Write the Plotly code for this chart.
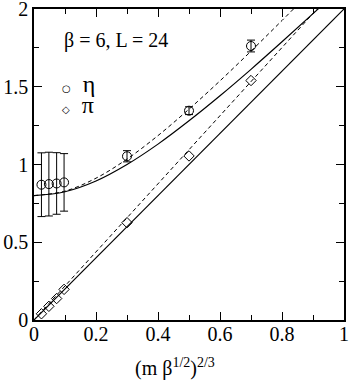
import plotly.graph_objects as go

# measured points
x_pts = [0.024, 0.048, 0.073, 0.097, 0.3, 0.5, 0.7]
eta_y = [0.870, 0.874, 0.878, 0.885, 1.053, 1.346, 1.762]
eta_err = [0.205, 0.205, 0.198, 0.185, 0.036, 0.025, 0.038]
pi_y = [0.040, 0.088, 0.138, 0.197, 0.626, 1.055, 1.540]

# fit curves
fit_x = [0, 0.1, 0.2, 0.3, 0.4, 0.5, 0.6, 0.7, 0.8, 0.9, 1.0]
eta_fit_solid = [0.800, 0.825, 0.894, 1.000, 1.131, 1.281, 1.442, 1.612, 1.789, 1.970, 2.154]
eta_fit_dash = [0.800, 0.829, 0.912, 1.035, 1.186, 1.356, 1.538, 1.729, 1.926, 2.127, 2.330]
pi_line_x = [0, 1.0]
pi_fit_solid = [0, 2.00]
pi_fit_dash = [0, 2.19]

FONT = 'Liberation Serif'

fig = go.Figure()

fig.add_trace(go.Scatter(x=fit_x, y=eta_fit_solid, mode='lines', line=dict(color='black', width=1.2, shape='spline'), showlegend=False))
fig.add_trace(go.Scatter(x=fit_x, y=eta_fit_dash, mode='lines', line=dict(color='black', width=1, dash='4px,3px', shape='spline'), showlegend=False))
fig.add_trace(go.Scatter(x=pi_line_x, y=pi_fit_solid, mode='lines', line=dict(color='black', width=1.2), showlegend=False))
fig.add_trace(go.Scatter(x=pi_line_x, y=pi_fit_dash, mode='lines', line=dict(color='black', width=1, dash='4px,3px'), showlegend=False))

fig.add_trace(go.Scatter(
    x=x_pts, y=eta_y, mode='markers', showlegend=False,
    marker=dict(symbol='circle-open', size=9, color='black', line=dict(width=1)),
    error_y=dict(type='data', array=eta_err, color='black', thickness=1, width=4),
))
fig.add_trace(go.Scatter(
    x=x_pts, y=pi_y, mode='markers', showlegend=False,
    marker=dict(symbol='diamond-open', size=8, color='black', line=dict(width=1)),
))

axis_common = dict(
    showline=True, linecolor='black', linewidth=1.5, mirror='ticks',
    ticks='inside', ticklen=8, tickcolor='black', tickwidth=1,
    showgrid=False, zeroline=False, automargin=False, ticklabeloverflow='allow',
    tickfont=dict(family=FONT, size=20, color='black'),
)

fig.update_xaxes(range=[0, 1], tickvals=[0, 0.2, 0.4, 0.6, 0.8, 1], ticktext=['0', '0.2', '0.4', '0.6', '0.8', '1'],
                 ticklabelstandoff=-5,
                 minor=dict(ticks='inside', dtick=0.1, ticklen=5, tickcolor='black'), **axis_common)
fig.update_yaxes(range=[0, 2], tickvals=[0, 0.5, 1, 1.5, 2], ticktext=['0', '0.5', '1', '1.5', '2'],
                 minor=dict(ticks='inside', dtick=0.25, ticklen=5, tickcolor='black'), **axis_common)

fig.add_annotation(text='β = 6, L = 24', xref='paper', yref='paper', x=0.09, y=0.898,
                   xanchor='left', yanchor='middle', showarrow=False,
                   font=dict(family=FONT, size=20, color='black'))
# key
fig.add_annotation(text='<span style="font-family:DejaVu Sans;font-size:10px">○</span>&nbsp; η', xref='paper', yref='paper',
                   x=0.085, y=0.758, xanchor='left', yanchor='middle', showarrow=False,
                   font=dict(family=FONT, size=24, color='black'))
fig.add_annotation(text='<span style="font-family:DejaVu Sans;font-size:10px">◇</span>&nbsp; π', xref='paper', yref='paper',
                   x=0.085, y=0.69, xanchor='left', yanchor='middle', showarrow=False,
                   font=dict(family=FONT, size=24, color='black'))
fig.add_annotation(text='(m β<sup>1/2</sup>)<sup>2/3</sup>', xref='paper', yref='paper', x=0.455, y=-0.152,
                   xanchor='center', yanchor='middle', showarrow=False,
                   font=dict(family=FONT, size=20, color='black'))

fig.update_layout(
    template='none',
    width=349, height=382,
    margin=dict(l=34, r=5, t=9, b=62),
    plot_bgcolor='white', paper_bgcolor='white',
    showlegend=False,
)

# page body has a default 8px margin; remove it so the figure sits at the window origin
fig.write_html("out.html", config={'displayModeBar': False},
               post_script="document.body.style.margin='0';")
